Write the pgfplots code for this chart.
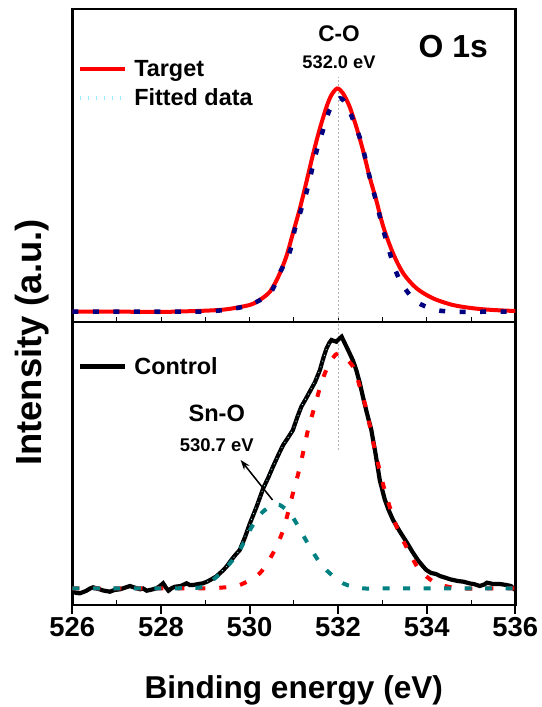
\documentclass[border=0pt]{standalone}
\usepackage{fontspec}
\setmainfont{Liberation Sans}
\usepackage{pgfplots}
\pgfplotsset{compat=1.18}
\usetikzlibrary{arrows.meta}
\definecolor{navyb}{RGB}{0,0,128}
\definecolor{tealc}{RGB}{0,128,128}
\definecolor{lcyan}{RGB}{150,235,250}
\begin{document}
\begin{tikzpicture}
\useasboundingbox (-72.3bp,-102bp) rectangle (469.7bp,605bp);
\pgfplotsset{
 common/.style={scale only axis, width=443bp, xmin=526, xmax=536, ytick=\empty,
   axis line style={line width=2.5bp},
   legend image code/.code={\draw[##1] (0bp,0bp) -- (45bp,0bp); \path (49bp,0bp);},
   legend style={draw=none, fill=none, anchor=north west,
     font=\fontsize{23.5}{28}\selectfont\bfseries, inner sep=0pt, row sep=5bp,
     nodes={inner sep=3bp}},
   legend cell align=left},
}
% ---------------- top panel ----------------
\begin{axis}[common, at={(0,283bp)}, anchor=south west, height=313bp,
  ymin=0, ymax=313, xtick={526,...,536}, xticklabels={}, xtick pos=bottom,
  tick align=inside, major tick length=5bp, tick style={line width=0.8bp, black},
  legend style={at={(0.013,0.847)}}]
\addplot[gray!60, line width=0.8bp, dash pattern=on 2bp off 2bp, forget plot] coordinates {(532,0) (532,245)};
\addplot[red, line width=4bp, smooth] coordinates {
(526,10.3) (526.5,10.3) (527,10.3) (527.5,10.2) (528,10.0) (528.5,10.6) (529,11.3)
(529.48,12.7) (530.0,17) (530.23,22) (530.46,30.3) (530.65,45.3) (530.83,65.3)
(530.98,88.7) (531.14,114) (531.29,141) (531.44,168.7) (531.59,193.7) (531.74,215.3)
(531.85,227) (531.98,233.5) (532.11,228.7) (532.26,215.3) (532.41,195.3) (532.56,172)
(532.71,145.3) (532.86,122) (533.02,95.3) (533.24,68.7) (533.47,48.7) (533.77,33.7)
(534.14,23.7) (534.59,17) (535.05,13.7) (535.5,12) (536,11)};
\addlegendentry{Target}
\addlegendimage{lcyan, line width=4bp, dash pattern=on 1bp off 7bp}
\addlegendentry{Fitted data}
\addplot[navyb, line width=4.5bp, dash pattern=on 6bp off 14.5bp, smooth, forget plot] coordinates {
(526,10.3) (527,10.3) (528,10.3) (529,10.5) (529.5,12.5) (530.0,17) (530.46,28.7)
(530.68,48.7) (530.91,70.3) (531.02,92) (531.14,108.7) (531.29,130.3) (531.4,150.3)
(531.51,170.3) (531.66,192) (531.81,212) (532.04,223.7) (532.19,217) (532.34,202)
(532.53,178.7) (532.71,145.3) (532.86,120.3) (533.02,92) (533.24,58.7) (533.43,38.7)
(533.77,20.3) (534.22,12) (534.67,10.3) (535.5,10.3) (536,10.3)};
\node[font=\fontsize{22.7}{27}\selectfont\bfseries] at (axis cs:532.02,288.7) {C-O};
\node[font=\fontsize{18.3}{22}\selectfont\bfseries] at (axis cs:532.02,259.3) {532.0 eV};
\node[font=\fontsize{32}{38}\selectfont\bfseries] at (axis cs:534.6,275.3) {O 1s};
\end{axis}
% ---------------- bottom panel ----------------
\begin{axis}[common, at={(0,0)}, anchor=south west, height=283bp,
  ymin=0, ymax=283, xtick={526,528,...,536}, xtick pos=bottom,
  tick align=outside, major tick length=9bp, tick style={line width=2bp, black},
  extra x ticks={527,529,...,535}, extra x tick labels={},
  extra x tick style={tick align=inside, major tick length=5bp, tick style={line width=1bp}},
  tick label style={font=\fontsize{27.5}{33}\selectfont\bfseries},
  /pgf/number format/assume math mode=true,
  xlabel={Binding energy (eV)},
  xlabel style={font=\fontsize{31.7}{38}\selectfont\bfseries, at={(axis description cs:0.5,0)}, anchor=center, yshift=-85bp},
  legend style={at={(0.013,0.887)}}]
\addplot[gray!60, line width=0.8bp, dash pattern=on 2bp off 2bp, forget plot] coordinates {(532,155) (532,283)};
\addplot[black, line width=4.2bp] coordinates {
(526.0,13.3) (526.1,12) (526.17,11.7) (526.25,13) (526.32,14.3) (526.4,16.5) (526.47,17.7)
(526.55,16.5) (526.62,15.7) (526.7,14.5) (526.85,13.3) (526.95,15) (527.08,15.7) (527.2,17.5)
(527.3,19) (527.4,17.5) (527.53,15.7) (527.6,16.5) (527.68,14.3) (527.8,15.5) (527.9,16.7)
(527.98,19) (528.05,21.7) (528.12,17) (528.17,14.3) (528.25,17) (528.32,18.3) (528.45,19)
(528.58,21.7) (528.65,20) (528.73,20) (528.85,21) (528.95,21.7) (529.05,23.5) (529.14,25.7)
(529.25,28.5) (529.33,31.7) (529.4,34.5) (529.48,38.3) (529.59,45) (529.68,50) (529.78,55)
(529.9,68) (530.01,81.7) (530.16,98.3) (530.31,116.7) (530.42,127) (530.53,138.3) (530.65,150)
(530.76,160) (530.88,168) (530.98,175) (531.08,188) (531.17,198.3) (531.27,206) (531.36,213.3)
(531.48,223) (531.59,235) (531.66,246) (531.74,256.7) (531.8,262) (531.85,265) (531.91,264)
(531.96,263.3) (532.02,266) (532.08,268.3) (532.17,260) (532.26,251.7) (532.34,244) (532.41,235)
(532.49,222) (532.56,208.3) (532.65,192) (532.75,175) (532.85,150) (532.94,125) (533.05,106)
(533.14,95) (533.24,85) (533.4,73) (533.54,63.3) (533.68,53) (533.8,45) (533.89,40) (533.99,35)
(534.1,32) (534.21,31) (534.3,29) (534.44,27) (534.53,25.7) (534.7,24) (534.83,23.3) (534.98,21.5)
(535.06,21) (535.2,19) (535.3,20.5) (535.36,22.3) (535.5,21) (535.65,21) (535.8,20) (535.9,19) (536,15)};
\addlegendentry{Control}
\addplot[lcyan, line width=0.8bp, dash pattern=on 1bp off 5bp, forget plot] coordinates {
(529.05,23.5) (529.25,28.5) (529.48,38.3) (529.78,55) (530.01,81.7) (530.31,116.7) (530.53,138.3)
(530.76,160) (530.98,175) (531.17,198.3) (531.36,213.3) (531.59,235) (531.74,256.7) (531.85,265)};
\addplot[red, line width=4bp, dash pattern=on 7bp off 14bp, smooth, forget plot] coordinates {
(526,16.7) (527,16.7) (528,16.7) (529,16.7) (529.4,17.5) (529.78,20) (530.23,31.7) (530.53,51.7)
(530.76,75) (530.98,111.7) (531.14,138.3) (531.32,175) (531.47,198.3) (531.62,221.7) (531.77,238.3)
(532.0,251.7) (532.34,238.3) (532.49,218.3) (532.64,195) (532.83,155) (533.05,115) (533.32,78.3)
(533.62,51.7) (533.84,35) (534.22,21.7) (534.74,16.7) (535.5,16.7) (536,16.7)};
\addplot[tealc, line width=4bp, dash pattern=on 7bp off 13.5bp, smooth, forget plot] coordinates {
(526,16.7) (527,16.7) (528,16.7) (528.6,16.9) (528.95,18.3) (529.26,28.3) (529.56,41.7) (529.78,55)
(530.01,75) (530.23,90) (530.46,98.3) (530.68,100) (530.91,91.7) (531.06,81.7) (531.36,58.3)
(531.66,38.3) (532.11,21.7) (532.56,16.7) (533,16.7) (534,16.7) (535,16.7) (536,16.7)};
\node[font=\fontsize{23.7}{28}\selectfont\bfseries] at (axis cs:529.26,191.7) {Sn-O};
\node[font=\fontsize{18.5}{22}\selectfont\bfseries] at (axis cs:529.26,160) {530.7 eV};
\draw[-{Stealth[length=10bp,width=7bp]}, line width=1.5bp] (axis cs:530.52,105) -- (axis cs:529.8,145);
\end{axis}
\node[rotate=90, font=\fontsize{36.5}{42}\selectfont\bfseries] at (-40.6bp,262.5bp) {Intensity (a.u.)};
\end{tikzpicture}
\end{document}
